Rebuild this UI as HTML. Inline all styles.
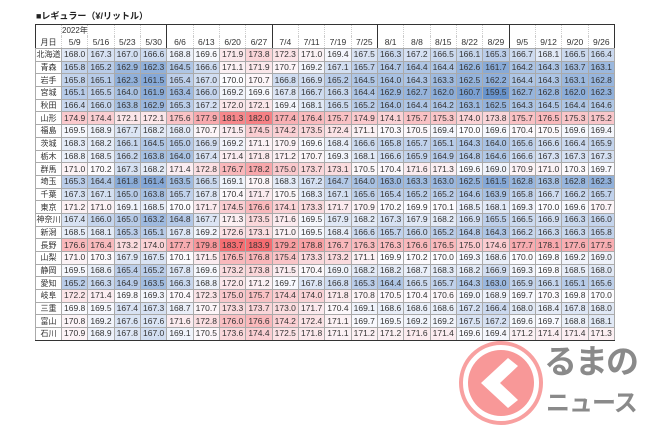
<!DOCTYPE html>
<html><head><meta charset="utf-8">
<style>
html,body{margin:0;padding:0;background:#fff;}
body{width:650px;height:433px;position:relative;overflow:hidden;font-family:"Liberation Sans","Noto Sans CJK JP",sans-serif;}
.title{position:absolute;left:36px;top:9px;font-size:9px;font-weight:bold;color:#222;}
table{position:absolute;left:35px;top:24px;width:580px;border-collapse:collapse;table-layout:fixed;font-size:8.5px;color:#333;}
td{border:1px solid #aaa;padding:0;text-align:center;height:11.7px;line-height:11px;white-space:nowrap;overflow:hidden;}
tr.h1 td{height:10px;border-bottom:none;border-top:1px solid #333;border-left:1px dotted #ccc;border-right:1px dotted #ccc;text-align:left;}
tr.h2 td{height:12px;border-top:none;border-left:1px dotted #ccc;border-right:1px dotted #ccc;}
td.k{width:25px;font-size:8px;}
col.k{width:26px;}
.m{border-left:1.6px solid #333 !important;}
table{border:1.5px solid #333;}
tr:last-child td{border-bottom:1.5px solid #333;}
.logo{position:absolute;left:458px;top:340px;width:86px;height:86px;}
.l1{position:absolute;left:544px;top:342px;font-size:33px;font-weight:bold;color:#8a8a8a;letter-spacing:-2px;line-height:40px;white-space:nowrap;}
.l2{position:absolute;left:546px;top:390px;font-size:24px;font-weight:bold;color:#8a8a8a;letter-spacing:-1px;line-height:28px;white-space:nowrap;}
</style></head><body>
<div class="title">■レギュラー（¥/リットル）</div>
<table id="t">
<col class="k"><col span="21">
<tr class="h1"><td class="k" style="border-left:1.5px solid #333"></td><td style="font-size:8px">2022年</td><td></td><td></td><td></td><td class="m"></td><td></td><td></td><td></td><td class="m"></td><td></td><td></td><td></td><td class="m"></td><td></td><td></td><td></td><td></td><td class="m"></td><td></td><td></td><td></td></tr>
<tr class="h2"><td class="k">月日</td><td>5/9</td><td>5/16</td><td>5/23</td><td>5/30</td><td class="m">6/6</td><td>6/13</td><td>6/20</td><td>6/27</td><td class="m">7/4</td><td>7/11</td><td>7/19</td><td>7/25</td><td class="m">8/1</td><td>8/8</td><td>8/15</td><td>8/22</td><td>8/29</td><td class="m">9/5</td><td>9/12</td><td>9/20</td><td>9/26</td></tr>
<tr><td class="k">北海道</td><td>168.0</td><td>167.3</td><td>167.0</td><td>166.6</td><td>168.8</td><td>169.6</td><td>171.9</td><td>173.8</td><td>172.3</td><td>171.0</td><td>169.4</td><td>167.5</td><td>166.3</td><td>167.2</td><td>166.5</td><td>166.1</td><td>165.3</td><td>166.7</td><td>168.1</td><td>166.5</td><td>166.4</td></tr>
<tr><td class="k">青森</td><td>165.8</td><td>165.2</td><td>162.9</td><td>162.3</td><td>164.5</td><td>166.6</td><td>171.1</td><td>171.9</td><td>170.7</td><td>169.2</td><td>167.1</td><td>165.7</td><td>164.7</td><td>164.4</td><td>164.4</td><td>162.6</td><td>161.7</td><td>164.2</td><td>164.3</td><td>163.7</td><td>163.1</td></tr>
<tr><td class="k">岩手</td><td>165.8</td><td>165.1</td><td>162.3</td><td>161.5</td><td>165.4</td><td>167.0</td><td>170.0</td><td>170.7</td><td>166.8</td><td>166.9</td><td>165.2</td><td>164.5</td><td>164.0</td><td>164.3</td><td>163.3</td><td>162.5</td><td>162.2</td><td>164.4</td><td>164.3</td><td>163.1</td><td>162.8</td></tr>
<tr><td class="k">宮城</td><td>165.1</td><td>165.5</td><td>164.0</td><td>161.9</td><td>163.4</td><td>166.0</td><td>169.2</td><td>169.6</td><td>167.8</td><td>166.7</td><td>166.3</td><td>164.4</td><td>162.9</td><td>162.7</td><td>162.0</td><td>160.7</td><td>159.5</td><td>162.7</td><td>162.8</td><td>162.0</td><td>162.3</td></tr>
<tr><td class="k">秋田</td><td>166.4</td><td>166.0</td><td>163.8</td><td>162.9</td><td>165.3</td><td>167.2</td><td>172.0</td><td>172.1</td><td>169.4</td><td>168.1</td><td>166.5</td><td>165.2</td><td>164.0</td><td>164.4</td><td>164.2</td><td>163.1</td><td>162.5</td><td>164.3</td><td>164.5</td><td>164.4</td><td>164.6</td></tr>
<tr><td class="k">山形</td><td>174.9</td><td>174.4</td><td>172.1</td><td>172.1</td><td>175.6</td><td>177.9</td><td>181.3</td><td>182.0</td><td>177.4</td><td>176.4</td><td>175.7</td><td>174.9</td><td>174.1</td><td>175.7</td><td>175.3</td><td>174.0</td><td>173.8</td><td>175.7</td><td>176.5</td><td>175.3</td><td>175.2</td></tr>
<tr><td class="k">福島</td><td>169.5</td><td>168.9</td><td>167.7</td><td>168.2</td><td>168.0</td><td>170.7</td><td>171.5</td><td>174.5</td><td>174.2</td><td>173.5</td><td>172.4</td><td>171.1</td><td>170.3</td><td>170.5</td><td>169.4</td><td>170.0</td><td>169.6</td><td>170.4</td><td>170.5</td><td>169.6</td><td>169.4</td></tr>
<tr><td class="k">茨城</td><td>168.3</td><td>168.2</td><td>166.1</td><td>164.5</td><td>165.0</td><td>166.9</td><td>169.2</td><td>171.1</td><td>170.9</td><td>169.6</td><td>168.4</td><td>166.6</td><td>165.8</td><td>165.7</td><td>165.1</td><td>164.3</td><td>164.0</td><td>165.6</td><td>166.6</td><td>166.4</td><td>165.9</td></tr>
<tr><td class="k">栃木</td><td>168.8</td><td>168.5</td><td>166.2</td><td>163.8</td><td>164.0</td><td>167.4</td><td>171.4</td><td>171.8</td><td>171.2</td><td>170.7</td><td>169.3</td><td>168.1</td><td>166.6</td><td>165.9</td><td>164.9</td><td>164.8</td><td>164.6</td><td>166.6</td><td>167.3</td><td>167.3</td><td>167.3</td></tr>
<tr><td class="k">群馬</td><td>171.0</td><td>170.2</td><td>167.3</td><td>168.2</td><td>171.4</td><td>172.8</td><td>176.7</td><td>178.2</td><td>175.0</td><td>173.7</td><td>173.1</td><td>170.5</td><td>170.4</td><td>171.6</td><td>171.3</td><td>169.6</td><td>169.0</td><td>170.9</td><td>171.0</td><td>170.3</td><td>169.7</td></tr>
<tr><td class="k">埼玉</td><td>165.3</td><td>164.4</td><td>161.8</td><td>161.4</td><td>163.5</td><td>166.5</td><td>169.1</td><td>170.8</td><td>168.3</td><td>167.2</td><td>164.7</td><td>164.0</td><td>163.0</td><td>163.3</td><td>163.0</td><td>162.5</td><td>161.5</td><td>162.8</td><td>163.8</td><td>162.8</td><td>162.3</td></tr>
<tr><td class="k">千葉</td><td>167.3</td><td>167.1</td><td>165.0</td><td>163.8</td><td>165.7</td><td>167.8</td><td>170.4</td><td>171.7</td><td>170.5</td><td>168.3</td><td>167.1</td><td>165.6</td><td>165.4</td><td>165.2</td><td>165.2</td><td>164.6</td><td>163.9</td><td>165.8</td><td>166.7</td><td>166.2</td><td>165.7</td></tr>
<tr><td class="k">東京</td><td>171.2</td><td>171.0</td><td>169.1</td><td>168.5</td><td>170.0</td><td>171.7</td><td>174.5</td><td>176.6</td><td>174.1</td><td>173.3</td><td>171.7</td><td>170.9</td><td>170.2</td><td>169.9</td><td>170.1</td><td>168.5</td><td>168.1</td><td>169.3</td><td>170.0</td><td>169.6</td><td>170.7</td></tr>
<tr><td class="k">神奈川</td><td>167.4</td><td>166.0</td><td>165.0</td><td>163.2</td><td>164.8</td><td>167.7</td><td>171.3</td><td>173.5</td><td>171.6</td><td>169.5</td><td>167.9</td><td>168.2</td><td>167.3</td><td>167.9</td><td>168.2</td><td>166.9</td><td>165.5</td><td>166.5</td><td>166.9</td><td>166.3</td><td>166.0</td></tr>
<tr><td class="k">新潟</td><td>168.5</td><td>168.1</td><td>165.3</td><td>165.1</td><td>167.8</td><td>169.2</td><td>172.6</td><td>173.1</td><td>171.0</td><td>169.5</td><td>168.4</td><td>166.6</td><td>165.7</td><td>166.0</td><td>165.2</td><td>164.8</td><td>164.3</td><td>166.2</td><td>166.3</td><td>166.3</td><td>165.8</td></tr>
<tr><td class="k">長野</td><td>176.6</td><td>176.4</td><td>173.2</td><td>174.0</td><td>177.7</td><td>179.8</td><td>183.7</td><td>183.9</td><td>179.2</td><td>178.8</td><td>176.7</td><td>176.3</td><td>176.3</td><td>176.6</td><td>176.5</td><td>175.0</td><td>174.6</td><td>177.7</td><td>178.1</td><td>177.6</td><td>177.5</td></tr>
<tr><td class="k">山梨</td><td>171.0</td><td>170.3</td><td>167.9</td><td>167.5</td><td>170.1</td><td>171.5</td><td>176.5</td><td>176.8</td><td>175.4</td><td>173.3</td><td>173.2</td><td>171.1</td><td>169.9</td><td>170.2</td><td>170.0</td><td>169.3</td><td>168.6</td><td>170.0</td><td>169.8</td><td>169.2</td><td>169.0</td></tr>
<tr><td class="k">静岡</td><td>169.5</td><td>168.6</td><td>165.4</td><td>165.2</td><td>167.8</td><td>169.6</td><td>173.2</td><td>173.8</td><td>171.5</td><td>170.4</td><td>169.0</td><td>168.2</td><td>168.2</td><td>168.7</td><td>168.3</td><td>168.2</td><td>166.9</td><td>169.3</td><td>169.8</td><td>168.5</td><td>168.0</td></tr>
<tr><td class="k">愛知</td><td>165.2</td><td>166.3</td><td>164.9</td><td>163.5</td><td>166.3</td><td>168.8</td><td>172.0</td><td>171.2</td><td>169.7</td><td>167.8</td><td>166.8</td><td>165.3</td><td>164.4</td><td>166.5</td><td>165.7</td><td>164.3</td><td>163.0</td><td>165.9</td><td>166.1</td><td>165.1</td><td>165.6</td></tr>
<tr><td class="k">岐阜</td><td>172.2</td><td>171.4</td><td>169.8</td><td>169.3</td><td>170.4</td><td>172.3</td><td>175.0</td><td>175.7</td><td>174.4</td><td>174.0</td><td>171.8</td><td>170.8</td><td>170.5</td><td>170.4</td><td>170.6</td><td>169.0</td><td>168.9</td><td>169.7</td><td>170.3</td><td>169.8</td><td>170.0</td></tr>
<tr><td class="k">三重</td><td>169.8</td><td>169.5</td><td>167.4</td><td>167.3</td><td>168.7</td><td>170.7</td><td>173.3</td><td>173.7</td><td>173.0</td><td>171.7</td><td>170.4</td><td>169.1</td><td>168.6</td><td>168.6</td><td>168.6</td><td>167.2</td><td>166.4</td><td>168.0</td><td>168.4</td><td>167.8</td><td>168.0</td></tr>
<tr><td class="k">富山</td><td>170.8</td><td>169.2</td><td>167.6</td><td>167.6</td><td>171.6</td><td>172.8</td><td>176.0</td><td>176.6</td><td>174.2</td><td>172.4</td><td>171.1</td><td>169.7</td><td>169.5</td><td>169.2</td><td>169.2</td><td>167.5</td><td>167.2</td><td>169.6</td><td>169.7</td><td>168.8</td><td>168.1</td></tr>
<tr><td class="k">石川</td><td>170.9</td><td>168.9</td><td>167.8</td><td>167.0</td><td>169.1</td><td>170.5</td><td>173.6</td><td>174.4</td><td>172.5</td><td>171.8</td><td>171.1</td><td>171.2</td><td>171.2</td><td>171.6</td><td>171.4</td><td>169.6</td><td>169.4</td><td>171.2</td><td>171.4</td><td>171.4</td><td>171.3</td></tr>
</table>
<svg class="logo" viewBox="0 0 86 86">
<circle cx="43" cy="43" r="40" fill="none" stroke="#f8a0a0" stroke-width="4"/>
<circle cx="43" cy="43" r="33" fill="#f89898"/>
<polygon points="50,18 23,43 50,68 60,60 42,43 60,26" fill="#fff"/>
</svg>
<div class="l1">るまの</div>
<div class="l2">ニュース</div>
<script>
var rows=document.querySelectorAll('#t tr');
var mn=159.5,md=170.0,mx=183.9;
var B=[105,148,205],W=[252,252,255],R=[245,108,112];
function mix(a,b,t){return 'rgb('+a.map(function(v,i){return Math.round(v+(b[i]-v)*t)}).join(',')+')';}
for(var r=2;r<rows.length;r++){var c=rows[r].children;
 for(var i=0;i<c.length;i++){
  if(i==5||i==9||i==13||i==18){c[i].classList.add('m');}
  if(i==0)continue;
  var v=parseFloat(c[i].textContent);
  c[i].style.background=v<md?mix(W,B,(md-v)/(md-mn)):mix(W,R,(v-md)/(mx-md));
 }}
</script>
</body></html>
